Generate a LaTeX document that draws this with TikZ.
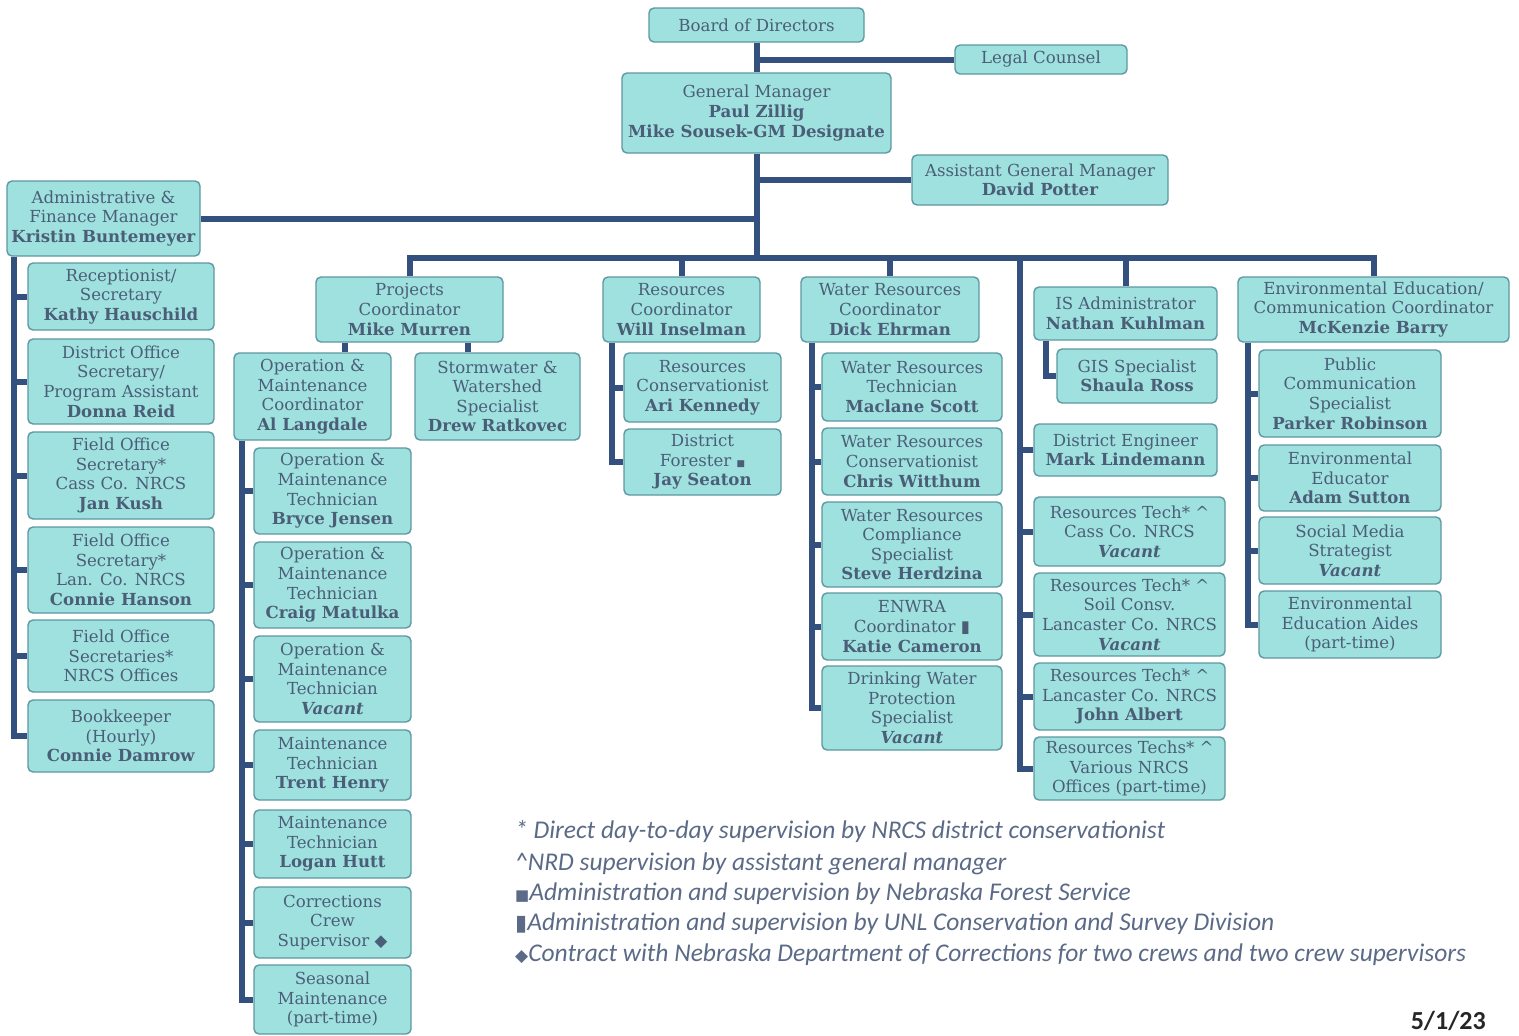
\documentclass[tikz,border=0pt]{standalone}
\usepackage{fontspec}
\setmainfont{DejaVu Serif}
\newfontfamily\legendfont{Carlito}
\newfontfamily\symfont{DejaVu Sans}
\definecolor{boxfill}{HTML}{9FE1DF}
\definecolor{boxline}{HTML}{5E98A2}
\definecolor{boxtext}{HTML}{4B5E78}
\definecolor{linkcol}{HTML}{34507E}
\definecolor{notetext}{HTML}{5B6A86}
\begin{document}
\begin{tikzpicture}[x=1pt,y=-1pt,
    orgbox/.style={draw=boxline,line width=1.4pt,fill=boxfill,rounded corners=5pt,text=boxtext,align=center,inner sep=1pt,font={\fontsize{16.6}{19.6}\selectfont}},
    link/.style={draw=linkcol,line width=6pt},
    note/.style={anchor=west,text=notetext,inner sep=0pt,font={\legendfont\itshape\fontsize{25.5}{27}\selectfont}}]
  \useasboundingbox (0,0) rectangle (1519,1036);
  \node[orgbox,minimum width=215,minimum height=34] (board) at (756.5,25) {Board of Directors};
  \node[orgbox,minimum width=172,minimum height=29] (legal) at (1041,59.5) {Legal Counsel};
  \node[orgbox,minimum width=269,minimum height=80] (gm) at (756.5,113) {General Manager\\\textbf{Paul Zillig}\\\textbf{Mike Sousek-GM Designate}};
  \node[orgbox,minimum width=256,minimum height=50] (agm) at (1040,180) {Assistant General Manager\\\textbf{David Potter}};
  \node[orgbox,minimum width=193,minimum height=75] (afm) at (103.5,218.5) {Administrative \&\\Finance Manager\\\textbf{Kristin Buntemeyer}};
  \node[orgbox,minimum width=187,minimum height=65] (pc) at (409.5,309.5) {Projects\\Coordinator\\\textbf{Mike Murren}};
  \node[orgbox,minimum width=157,minimum height=65] (rc) at (681.5,309.5) {Resources\\Coordinator\\\textbf{Will Inselman}};
  \node[orgbox,minimum width=178,minimum height=65] (wrc) at (890,309.5) {Water Resources\\Coordinator\\\textbf{Dick Ehrman}};
  \node[orgbox,minimum width=183,minimum height=53] (isa) at (1125.5,313.5) {IS Administrator\\\textbf{Nathan Kuhlman}};
  \node[orgbox,minimum width=271,minimum height=65] (ee) at (1373.5,309.5) {Environmental Education/\\Communication Coordinator\\\textbf{McKenzie Barry}};
  % administration
  \node[orgbox,minimum width=186,minimum height=67] (rec) at (121,296.5) {Receptionist/\\Secretary\\\textbf{Kathy Hauschild}};
  \node[orgbox,minimum width=186,minimum height=85] (dos) at (121,381.5) {District Office\\Secretary/\\Program Assistant\\\textbf{Donna Reid}};
  \node[orgbox,minimum width=186,minimum height=87] (fos1) at (121,475.5) {Field Office\\Secretary*\\Cass Co. NRCS\\\textbf{Jan Kush}};
  \node[orgbox,minimum width=186,minimum height=86] (fos2) at (121,570) {Field Office\\Secretary*\\Lan. Co. NRCS\\\textbf{Connie Hanson}};
  \node[orgbox,minimum width=186,minimum height=72] (fos3) at (121,656) {Field Office\\Secretaries*\\NRCS Offices};
  \node[orgbox,minimum width=186,minimum height=72] (bk) at (121,736) {Bookkeeper\\(Hourly)\\\textbf{Connie Damrow}};
  % projects
  \node[orgbox,minimum width=157,minimum height=87] (omc) at (312.5,396.5) {Operation \&\\Maintenance\\Coordinator\\\textbf{Al Langdale}};
  \node[orgbox,minimum width=165,minimum height=87] (sws) at (497.5,396.5) {Stormwater \&\\Watershed\\Specialist\\\textbf{Drew Ratkovec}};
  \node[orgbox,minimum width=157,minimum height=86] (omt1) at (332.5,491) {Operation \&\\Maintenance\\Technician\\\textbf{Bryce Jensen}};
  \node[orgbox,minimum width=157,minimum height=86] (omt2) at (332.5,585) {Operation \&\\Maintenance\\Technician\\\textbf{Craig Matulka}};
  \node[orgbox,minimum width=157,minimum height=86] (omt3) at (332.5,679) {Operation \&\\Maintenance\\Technician\\\textbf{\textit{Vacant}}};
  \node[orgbox,minimum width=157,minimum height=70] (mt1) at (332.5,765) {Maintenance\\Technician\\\textbf{Trent Henry}};
  \node[orgbox,minimum width=157,minimum height=68] (mt2) at (332.5,844) {Maintenance\\Technician\\\textbf{Logan Hutt}};
  \node[orgbox,minimum width=157,minimum height=71] (ccs) at (332.5,922.5) {Corrections\\Crew\\Supervisor {\symfont ◆}};
  \node[orgbox,minimum width=157,minimum height=69] (sm) at (332.5,999.5) {Seasonal\\Maintenance\\(part-time)};
  % resources
  \node[orgbox,minimum width=157,minimum height=69] (rcon) at (702.5,387.5) {Resources\\Conservationist\\\textbf{Ari Kennedy}};
  \node[orgbox,minimum width=157,minimum height=66] (df) at (702.5,462) {District\\Forester {\symfont\small ■}\\\textbf{Jay Seaton}};
  % water resources
  \node[orgbox,minimum width=180,minimum height=68] (wrt) at (912,387) {Water Resources\\Technician\\\textbf{Maclane Scott}};
  \node[orgbox,minimum width=180,minimum height=67] (wrcon) at (912,461.5) {Water Resources\\Conservationist\\\textbf{Chris Witthum}};
  \node[orgbox,minimum width=180,minimum height=85] (wrcs) at (912,544.5) {Water Resources\\Compliance\\Specialist\\\textbf{Steve Herdzina}};
  \node[orgbox,minimum width=180,minimum height=67] (enwra) at (912,626.5) {ENWRA\\Coordinator {\symfont ▮}\\\textbf{Katie Cameron}};
  \node[orgbox,minimum width=180,minimum height=84] (dwp) at (912,708) {Drinking Water\\Protection\\Specialist\\\textbf{\textit{Vacant}}};
  % engineering and techs
  \node[orgbox,minimum width=160,minimum height=54] (gis) at (1137,376) {GIS Specialist\\\textbf{Shaula Ross}};
  \node[orgbox,minimum width=183,minimum height=52] (de) at (1125.5,450) {District Engineer\\\textbf{Mark Lindemann}};
  \node[orgbox,minimum width=191,minimum height=69] (rt1) at (1129.5,531.5) {Resources Tech* \textasciicircum\\Cass Co. NRCS\\\textbf{\textit{Vacant}}};
  \node[orgbox,minimum width=191,minimum height=83] (rt2) at (1129.5,614.5) {Resources Tech* \textasciicircum\\Soil Consv.\\Lancaster Co. NRCS\\\textbf{\textit{Vacant}}};
  \node[orgbox,minimum width=191,minimum height=67] (rt3) at (1129.5,696.5) {Resources Tech* \textasciicircum\\Lancaster Co. NRCS\\\textbf{John Albert}};
  \node[orgbox,minimum width=191,minimum height=63] (rt4) at (1129.5,768.5) {Resources Techs* \textasciicircum\\Various NRCS\\Offices (part-time)};
  % education
  \node[orgbox,minimum width=182,minimum height=87] (pcs) at (1350,393.5) {Public\\Communication\\Specialist\\\textbf{Parker Robinson}};
  \node[orgbox,minimum width=182,minimum height=66] (eed) at (1350,478) {Environmental\\Educator\\\textbf{Adam Sutton}};
  \node[orgbox,minimum width=182,minimum height=67] (smsv) at (1350,550.5) {Social Media\\Strategist\\\textbf{\textit{Vacant}}};
  \node[orgbox,minimum width=182,minimum height=67] (eea) at (1350,624.5) {Environmental\\Education Aides\\(part-time)};
  % connectors
  \coordinate (bus) at (756.5,258);
  \coordinate (midspine) at (1020,258);
  \coordinate (admspine) at (14,0);
  \coordinate (omspine) at (242,0);
  \coordinate (rcspine) at (612,0);
  \coordinate (wrspine) at (812,0);
  \coordinate (isspine) at (1046,0);
  \coordinate (eespine) at (1248,0);
  \draw[link] (board.south) -- (gm.north);
  \draw[link] (legal.west) -- (legal.west -| gm.north);
  \draw[link] (agm.west) -- (agm.west -| gm.south);
  \draw[link] (afm.east) -- (afm.east -| gm.south);
  \draw[link] (gm.south) -- (bus);
  \draw[link] (pc.north) |- (bus) -| (ee.north);
  \draw[link] (rc.north) -- (rc.north |- bus);
  \draw[link] (wrc.north) -- (wrc.north |- bus);
  \draw[link] (isa.north) -- (isa.north |- bus);
  \draw[link] (midspine) |- (rt4.west);
  \draw[link] (de.west -| midspine) -- (de.west) (rt1.west -| midspine) -- (rt1.west) (rt2.west -| midspine) -- (rt2.west) (rt3.west -| midspine) -- (rt3.west);
  \draw[link] (afm.south -| admspine) |- (bk.west);
  \draw[link] (rec.west -| admspine) -- (rec.west) (dos.west -| admspine) -- (dos.west) (fos1.west -| admspine) -- (fos1.west) (fos2.west -| admspine) -- (fos2.west) (fos3.west -| admspine) -- (fos3.west);
  \draw[link] ([xshift=32.5]omc.north) -- ([xshift=32.5]omc.north |- pc.south);
  \draw[link] ([xshift=-29.5]sws.north) -- ([xshift=-29.5]sws.north |- pc.south);
  \draw[link] (omc.south -| omspine) |- (sm.west);
  \draw[link] (omt1.west -| omspine) -- (omt1.west) (omt2.west -| omspine) -- (omt2.west) (omt3.west -| omspine) -- (omt3.west) (mt1.west -| omspine) -- (mt1.west) (mt2.west -| omspine) -- (mt2.west) (ccs.west -| omspine) -- (ccs.west);
  \draw[link] (rc.south -| rcspine) |- (df.west);
  \draw[link] (rcon.west -| rcspine) -- (rcon.west);
  \draw[link] (wrc.south -| wrspine) |- (dwp.west);
  \draw[link] (wrt.west -| wrspine) -- (wrt.west) (wrcon.west -| wrspine) -- (wrcon.west) (wrcs.west -| wrspine) -- (wrcs.west) (enwra.west -| wrspine) -- (enwra.west);
  \draw[link] (isa.south -| isspine) |- (gis.west);
  \draw[link] (ee.south -| eespine) |- (eea.west);
  \draw[link] (pcs.west -| eespine) -- (pcs.west) (eed.west -| eespine) -- (eed.west) (smsv.west -| eespine) -- (smsv.west);
  % notes
  \node[note] (supnrcs) at (515,832) {* Direct day-to-day supervision by NRCS district conservationist};
  \node[note] (supagm) at (515,864) {\textasciicircum NRD supervision by assistant general manager};
  \node[note] (supnfs) at (515,894) {{\symfont\fontsize{15}{15}\selectfont ■}Administration and supervision by Nebraska Forest Service};
  \node[note] (supunl) at (515,924) {{\symfont\fontsize{22}{22}\selectfont ▮}Administration and supervision by UNL Conservation and Survey Division};
  \node[note] (supdoc) at (515,955) {{\symfont\fontsize{17}{17}\selectfont ◆}Contract with Nebraska Department of Corrections for two crews and two crew supervisors};
  \node[anchor=east,inner sep=0pt,text=black!85,font={\legendfont\bfseries\fontsize{26}{28}\selectfont}] (date) at (1486,1021) {5/1/23};
\end{tikzpicture}
\end{document}
